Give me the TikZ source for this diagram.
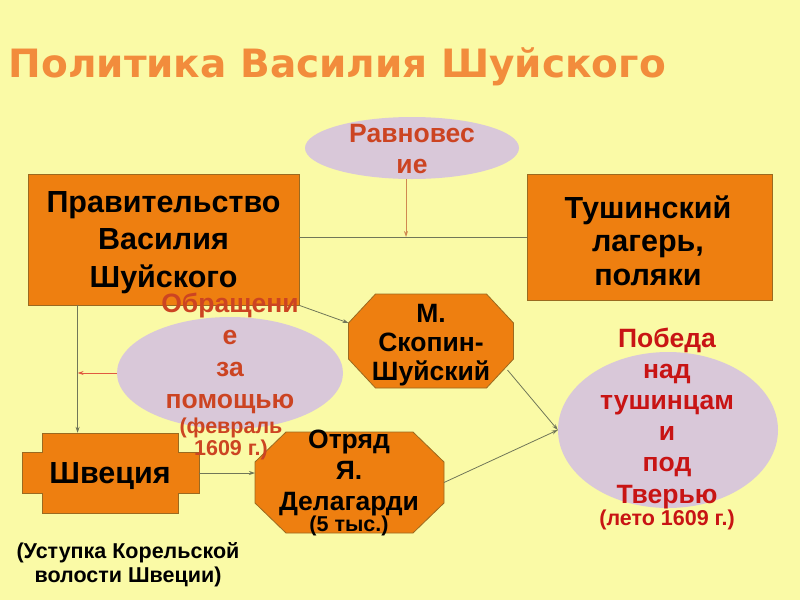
\documentclass[tikz,border=0pt]{standalone}
\usepackage{fontspec}
\setmainfont{Liberation Sans}
\newfontfamily\titlefont{DejaVu Sans}
\usetikzlibrary{arrows.meta,calc,shapes.geometric}
\definecolor{bg}{HTML}{FAFAA6}
\definecolor{boxfill}{HTML}{EE7F10}
\definecolor{boxline}{HTML}{9A6A20}
\definecolor{oval}{HTML}{D9C8D9}
\definecolor{titleor}{HTML}{F28C3C}
\definecolor{redA}{HTML}{CC4422}
\definecolor{redV}{HTML}{C81414}
\definecolor{connline}{HTML}{707658}
\definecolor{eqarrow}{HTML}{D08850}
\definecolor{redarrow}{HTML}{E05A40}
\newcommand\stack[5]{%
  \foreach \t [count=\i from 0] in {#5} {\node[anchor=base, inner sep=0] (#1\i) at (#2, #3+\i*#4) {\t};}}
\newcommand\octa[7]{% name, cx, cy, halfw, halfh, chamfer x, chamfer y
  \begin{scope}[shift={(#2,#3)}]
    \coordinate (#1) at (0,0);
    \coordinate (#1-wt) at (-#4,-#5+#7);
    \coordinate (#1-wb) at (-#4,#5-#7);
    \coordinate (#1-et) at (#4,-#5+#7);
    \coordinate (#1-eb) at (#4,#5-#7);
    \draw[shapeline] (-#4+#6,-#5) -- (#4-#6,-#5) -- (#4,-#5+#7) -- (#4,#5-#7)
      -- (#4-#6,#5) -- (-#4+#6,#5) -- (-#4,#5-#7) -- (-#4,-#5+#7) -- cycle;
  \end{scope}}
\begin{document}
\begin{tikzpicture}[x=1pt,y=-1pt,
  shapeline/.style={draw=boxline, fill=boxfill, line width=0.8pt},
  box/.style={shapeline, rectangle, inner sep=0},
  ovalnode/.style={ellipse, fill=oval, inner sep=0},
  conn/.style={draw=connline, line width=0.8pt},
  tip/.style={-{Stealth[length=6pt,width=4pt]}},
  bigtext/.style={font=\bfseries\fontsize{30.5}{32}\selectfont},
  midtext/.style={font=\bfseries\fontsize{26.5}{28}\selectfont},
  smalltext/.style={font=\bfseries\fontsize{21.5}{23}\selectfont}
]
\fill[bg] (0,0) rectangle (800,600);
\useasboundingbox (0,0) rectangle (800,600);

% title
\node[anchor=base west, inner sep=0, text=titleor,
  font=\titlefont\bfseries\fontsize{39}{46}\selectfont] (title) at (8.5,77)
  {Политика Василия Шуйского};

% shapes
\node[box, minimum width=271, minimum height=131] (gov) at (163.5,239.5) {};
\node[box, minimum width=245, minimum height=126] (tush) at (649.5,237) {};
\node[ovalnode, minimum width=214, minimum height=62] (eq) at (412,148) {};
\node[ovalnode, minimum width=226, minimum height=112] (ask) at (230,373) {};
\node[ovalnode, minimum width=220, minimum height=156] (vic) at (668,430) {};
\octa{sk}{431}{341}{82.5}{47}{27}{29}
\octa{dl}{349.5}{482.5}{94.5}{50.5}{31}{30}
\draw[shapeline] (42,433) -- (178,433) -- (178,452) -- (199,452) -- (199,493)
  -- (178,493) -- (178,513) -- (42,513) -- (42,493) -- (22,493) -- (22,452)
  -- (42,452) -- cycle;
\node[inner sep=0, minimum width=177, minimum height=80] (sw) at (110.5,473) {};

% connectors
\coordinate (vtop) at ($(gov.south west)+(50,0)$);
\coordinate (eqend) at (406,237);
\draw[conn] (gov.east |- tush.west) -- (tush.west);
\draw[draw=eqarrow, line width=0.8pt, tip] (eqend |- eq.south) -- (eqend);
\draw[conn, tip] (vtop) -- (vtop |- sw.north);
\draw[draw=redarrow, line width=0.8pt, tip] (ask.west) -- (ask.west -| vtop);
\draw[conn, tip] (gov.south east) -- (sk-wt);
\draw[conn, tip] ($(sk-eb)+(-6,11)$) -- (vic.west);
\draw[conn, tip] (sw.east) -- (sw.east -| dl-wt);
\draw[conn, tip] ($(dl-et)!0.5!(dl-eb)$) -- (vic.west);

% texts
\begin{scope}[bigtext]
  \stack{govt}{163.5}{212}{37.5}{Правительство,Василия,Шуйского}
  \stack{tusht}{648}{218}{33.5}{Тушинский,{лагерь,},поляки}
  \stack{swt}{110}{483}{0}{Швеция}
\end{scope}
\begin{scope}[midtext]
  \stack{skt}{431}{322}{29}{М.,Скопин-,Шуйский}
  \stack{dlt}{349}{448}{31}{Отряд,Я.,Делагарди}
  \begin{scope}[text=redA]
    \stack{eqt}{412}{142}{31}{Равновес,ие}
    \stack{askt}{230}{312}{32}{Обращени,е,за,помощью}
  \end{scope}
  \begin{scope}[text=redV]
    \stack{vict}{667}{347}{31.2}{Победа,над,тушинцам,и,под,Тверью}
  \end{scope}
\end{scope}
\begin{scope}[smalltext]
  \stack{dls}{349}{531}{0}{{(5 тыс.)}}
  \begin{scope}[text=redA]
    \stack{asks}{231}{433}{22}{{(февраль},{1609 г.)}}
  \end{scope}
  \begin{scope}[text=redV]
    \stack{vics}{667}{525}{0}{{(лето 1609 г.)}}
  \end{scope}
  \stack{note}{128}{558}{24}{{(Уступка Корельской},{волости Швеции)}}
\end{scope}
\end{tikzpicture}
\end{document}
